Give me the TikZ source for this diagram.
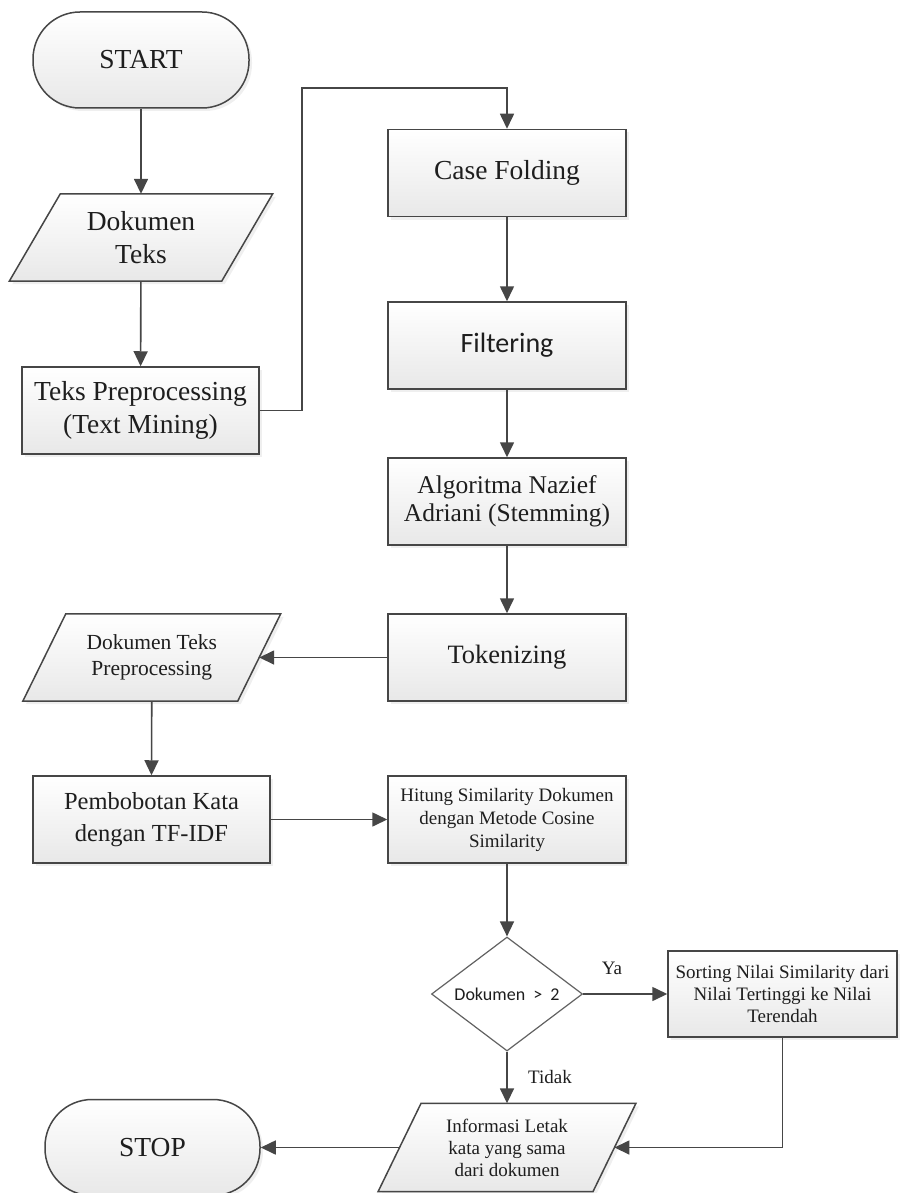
\documentclass[tikz,border=0pt]{standalone}
\usepackage{fontspec}
\setmainfont{Liberation Serif}
\newfontfamily\calib{Carlito}
\usetikzlibrary{arrows.meta,shapes.geometric,calc,backgrounds,shadows}
\definecolor{ln}{HTML}{464646}
\definecolor{fillb}{HTML}{E8E8E8}
\definecolor{txt}{HTML}{1E1E1E}
\newcommand\bigtxt{\fontsize{27.5}{33}\selectfont}
\newcommand\paradraw[2]{%
  \begin{scope}[on background layer]
    \draw[parashape] ($(#1.north west)+(#2,0)$) -- ($(#1.north east)+(#2,0)$)
      -- ($(#1.south east)-(#2,0)$) -- ($(#1.south west)-(#2,0)$) -- cycle;
  \end{scope}}
\tikzset{
  x=1pt,y=-1pt,
  shad/.style={drop shadow={opacity=0.12,shadow xshift=3pt,shadow yshift=-3pt}},
  boxbase/.style={draw=ln,line width=1.5pt,top color=white,bottom color=fillb,
    align=center,inner sep=0pt,text=txt,shad},
  procbox/.style={boxbase,rectangle,minimum width=238pt,minimum height=87pt},
  termbox/.style={boxbase,rectangle,rounded corners=47pt,minimum width=216pt,
    minimum height=96pt,font=\bigtxt},
  paratext/.style={rectangle,align=center,inner sep=0pt,text=txt,minimum height=87pt},
  parashape/.style={draw=ln,line width=1.5pt,top color=white,bottom color=fillb,shad},
  decision/.style={diamond,draw=ln!85,line width=1.2pt,fill=white,aspect=1.32,
    minimum width=151pt,minimum height=114pt,inner sep=0pt,text=txt,
    font=\calib\fontsize{18}{22}\selectfont},
  arr/.style={draw=ln,line width=1.6pt,-{Triangle[length=15pt,width=14pt]}},
  lbl/.style={text=txt,font=\fontsize{19}{22}\selectfont,inner sep=0pt}
}
\begin{document}
\begin{tikzpicture}
\begin{scope}[on background layer]
  \fill[white] (0,0) rectangle (899,1193);
\end{scope}
\useasboundingbox (0,0) rectangle (899,1193);

\node[termbox] (start) at (141,60) {START};
\node[paratext,minimum width=212pt,font=\bigtxt] (dok) at (141,237.5) {Dokumen\\Teks};
\paradraw{dok}{25.5}
\node[procbox,minimum width=237pt,font=\bigtxt] (tp) at (140.5,410.5) {Teks Preprocessing\\(Text Mining)};

\node[procbox,font=\bigtxt] (cf) at (507,173) {Case Folding};
\node[procbox,font=\calib\fontsize{28}{32}\selectfont] (fil) at (507,345.5) {Filtering};
\node[procbox,font=\fontsize{25.5}{28}\selectfont] (alg) at (507,501.5) {Algoritma Nazief\\Adriani (Stemming)};
\node[procbox,font=\fontsize{26.5}{32}\selectfont] (tok) at (507,657.5) {Tokenizing};

\node[paratext,minimum width=214.5pt,font=\fontsize{21.5}{26}\selectfont] (dtp) at (151.75,657.5) {Dokumen Teks\\Preprocessing};
\paradraw{dtp}{21.5}
\node[procbox,minimum width=237pt,font=\fontsize{24.5}{32}\selectfont] (pem) at (151.5,819.5) {Pembobotan Kata\\dengan TF-IDF};
\node[procbox,font=\fontsize{19}{23}\selectfont] (hit) at (507,819.5) {Hitung Similarity Dokumen\\dengan Metode Cosine\\Similarity};

\node[decision] (dec) at (507,994) {Dokumen ~>~ 2};
\node[procbox,minimum width=229pt,minimum height=86pt,font=\fontsize{19}{22}\selectfont] (sort) at (782.5,994) {Sorting Nilai Similarity dari\\Nilai Tertinggi ke Nilai\\Terendah};
\node[paratext,minimum width=214.5pt,minimum height=88pt,font=\fontsize{19}{22}\selectfont] (inf) at (507,1147.5) {Informasi Letak\\kata yang sama\\dari dokumen};
\paradraw{inf}{21.5}
\node[termbox,minimum width=215pt] (stop) at (152.5,1147.5) {STOP};

\node[lbl] (ya) at (612,968) {Ya};
\node[lbl] (tidak) at (550,1077) {Tidak};

\coordinate (j1) at (302,88);
\draw[arr] (start) -- (dok);
\draw[arr] (dok) -- (tp);
\draw[arr] (tp.east) -| (j1) -| (cf.north);
\draw[arr] (cf) -- (fil);
\draw[arr] (fil) -- (alg);
\draw[arr] (alg) -- (tok);
\draw[arr] (tok.west) -- (dtp.east);
\draw[arr] (dtp.south) -- (pem.north);
\draw[arr] (pem.east) -- (hit.west);
\draw[arr] (hit) -- (dec);
\draw[arr] (dec.east) -- (sort.west);
\draw[arr] (dec.south) -- (inf.north);
\draw[arr] (sort.south) |- (inf.east);
\draw[arr] (inf.west) -- (stop.east);
\end{tikzpicture}
\end{document}
